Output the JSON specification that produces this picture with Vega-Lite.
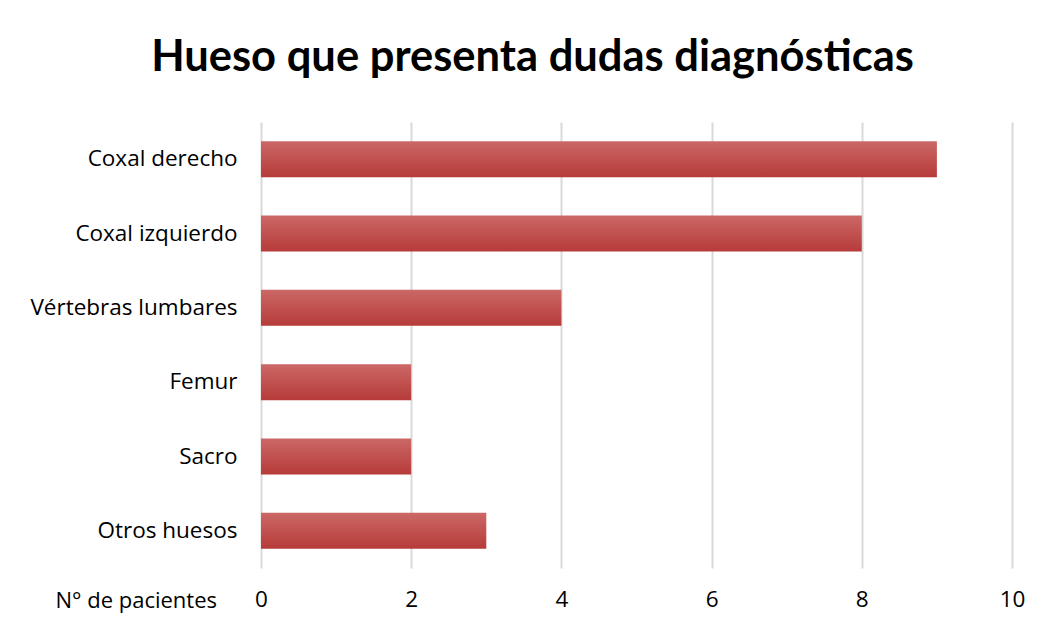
{
  "$schema": "https://vega.github.io/schema/vega-lite/v6.json",
  "autosize": "none",
  "width": 751,
  "height": 446,
  "padding": {"left": 261, "top": 122, "right": 33, "bottom": 63},
  "background": "white",
  "title": {
    "text": "Hueso que presenta dudas diagnósticas",
    "font": "Lato",
    "fontSize": 43.5,
    "fontWeight": "bold",
    "color": "#000000",
    "anchor": "middle",
    "dx": -104,
    "offset": 42
  },
  "data": {
    "values": [
      {"hueso": "Coxal derecho", "pacientes": 9},
      {"hueso": "Coxal izquierdo", "pacientes": 8},
      {"hueso": "Vértebras lumbares", "pacientes": 4},
      {"hueso": "Femur", "pacientes": 2},
      {"hueso": "Sacro", "pacientes": 2},
      {"hueso": "Otros huesos", "pacientes": 3}
    ]
  },
  "mark": {
    "type": "bar",
    "color": {
      "gradient": "linear",
      "x1": 0, "y1": 0, "x2": 0, "y2": 1,
      "stops": [
        {"offset": 0, "color": "#CB6866"},
        {"offset": 1, "color": "#B63B39"}
      ]
    }
  },
  "encoding": {
    "y": {
      "field": "hueso",
      "type": "nominal",
      "sort": null,
      "scale": {"paddingInner": 0.515, "paddingOuter": 0.2575},
      "axis": {
        "title": null,
        "domain": false,
        "ticks": false,
        "labelPadding": 24,
        "labelFont": "Open Sans",
        "labelFontSize": 22.5,
        "labelColor": "#000000",
        "labelLimit": 300
      }
    },
    "x": {
      "field": "pacientes",
      "type": "quantitative",
      "scale": {"domain": [0, 10]},
      "axis": {
        "values": [0, 2, 4, 6, 8, 10],
        "domain": false,
        "ticks": false,
        "grid": true,
        "gridColor": "#D9D9D9",
        "gridWidth": 2,
        "labelFlush": false,
        "labelPadding": 20,
        "labelFont": "Open Sans",
        "labelFontSize": 22.5,
        "labelColor": "#000000",
        "title": "N° de pacientes",
        "titleFont": "Open Sans",
        "titleFontSize": 22,
        "titleFontWeight": "normal",
        "titleColor": "#000000",
        "titleAnchor": "start",
        "titleAlign": "left",
        "titleBaseline": "middle",
        "titleX": -206,
        "titleY": 32
      }
    }
  },
  "config": {"view": {"stroke": null}}
}
